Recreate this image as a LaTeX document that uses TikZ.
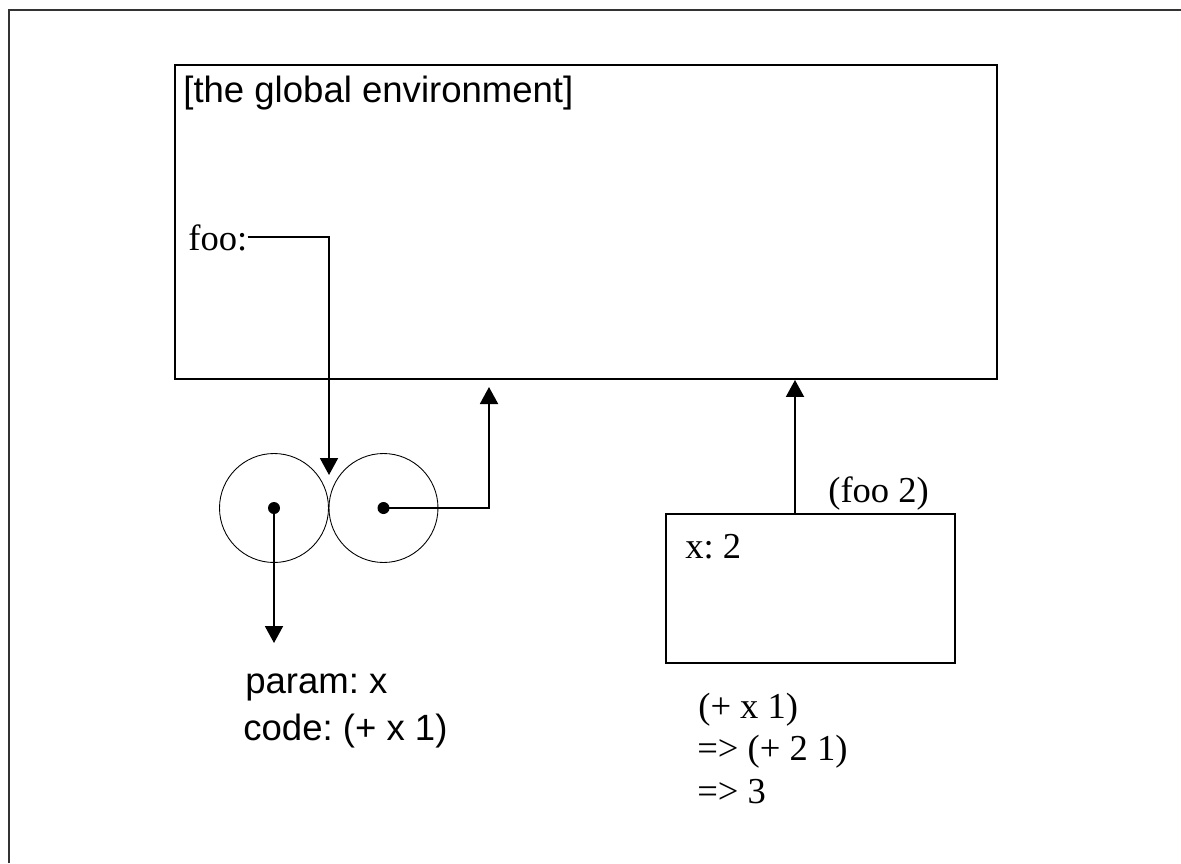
\documentclass[tikz,border=0pt]{standalone}
\usepackage{fontspec}
\setmainfont{Liberation Serif}
\setsansfont{Liberation Sans}
\usetikzlibrary{positioning,arrows.meta}
\tikzset{
  envbox/.style={draw, line width=1.1pt, inner sep=0pt},
  cellpart/.style={draw, circle, line width=0.5pt, inner sep=0pt, minimum size=2.18cm},
  celldot/.style={fill, circle, inner sep=0pt, minimum size=0.24cm},
  ptr/.style={-{Triangle[length=0.34cm,width=0.36cm]}, line width=1.1pt},
  sanslbl/.style={anchor=base west, inner sep=0pt, font=\fontsize{20.8}{26}\sffamily},
  seriflbl/.style={anchor=base west, inner sep=0pt, font=\fontsize{20.8}{26}\rmfamily},
}
\frenchspacing
\begin{document}
\begin{tikzpicture}[x=0.02cm, y=-0.02cm]
  \useasboundingbox (0,0) rectangle (1181,863);
  % frame of the page
  \draw[line width=1.2pt, black!80] (9,863) -- (9,10) -- (1181,10);

  % environments
  \node[envbox, minimum width=16.44cm, minimum height=6.28cm] (global) at (586,222) {};
  \node[sanslbl] (globalLbl) at (183,102) {[the global environment]};
  \node[seriflbl] (fooLbl) at (188,250) {foo:};

  \node[envbox, minimum width=5.78cm, minimum height=2.98cm] (frame) at (810.5,588.5) {};
  \node[seriflbl] (callLbl) at (828,502) {(foo 2)};
  \node[seriflbl] (bindLbl) at (685,558) {x: 2};

  % the procedure object
  \node[cellpart] (pairL) at (274,508) {};
  \node[cellpart] (pairR) at (383.5,508) {};
  \node[celldot] (dotL) at (pairL) {};
  \node[celldot] (dotR) at (pairR) {};
  \node[sanslbl] (procParam) at (245,693) {param: x};
  \node[sanslbl] (procCode) at (243,740) {code: (+ x 1)};

  % evaluation
  \node[seriflbl] (evalA) at (698,718) {(+ x 1)};
  \node[seriflbl] (evalB) at (697,760) {=> (+ 2 1)};
  \node[seriflbl] (evalC) at (697,803) {=> 3};

  \coordinate (fooTip) at (329,475);
  \coordinate (procTip) at (274,643);
  \coordinate (envTip) at (489,387);
  \coordinate (callFoot) at (795,514);

  \draw[ptr] (fooLbl.east |- 0,237) -| (fooTip);
  \draw[ptr] (dotL.center) -- (procTip);
  \draw[ptr] (dotR.center) -| (envTip);
  \draw[ptr] (callFoot) -- (callFoot |- global.south);
\end{tikzpicture}
\end{document}
